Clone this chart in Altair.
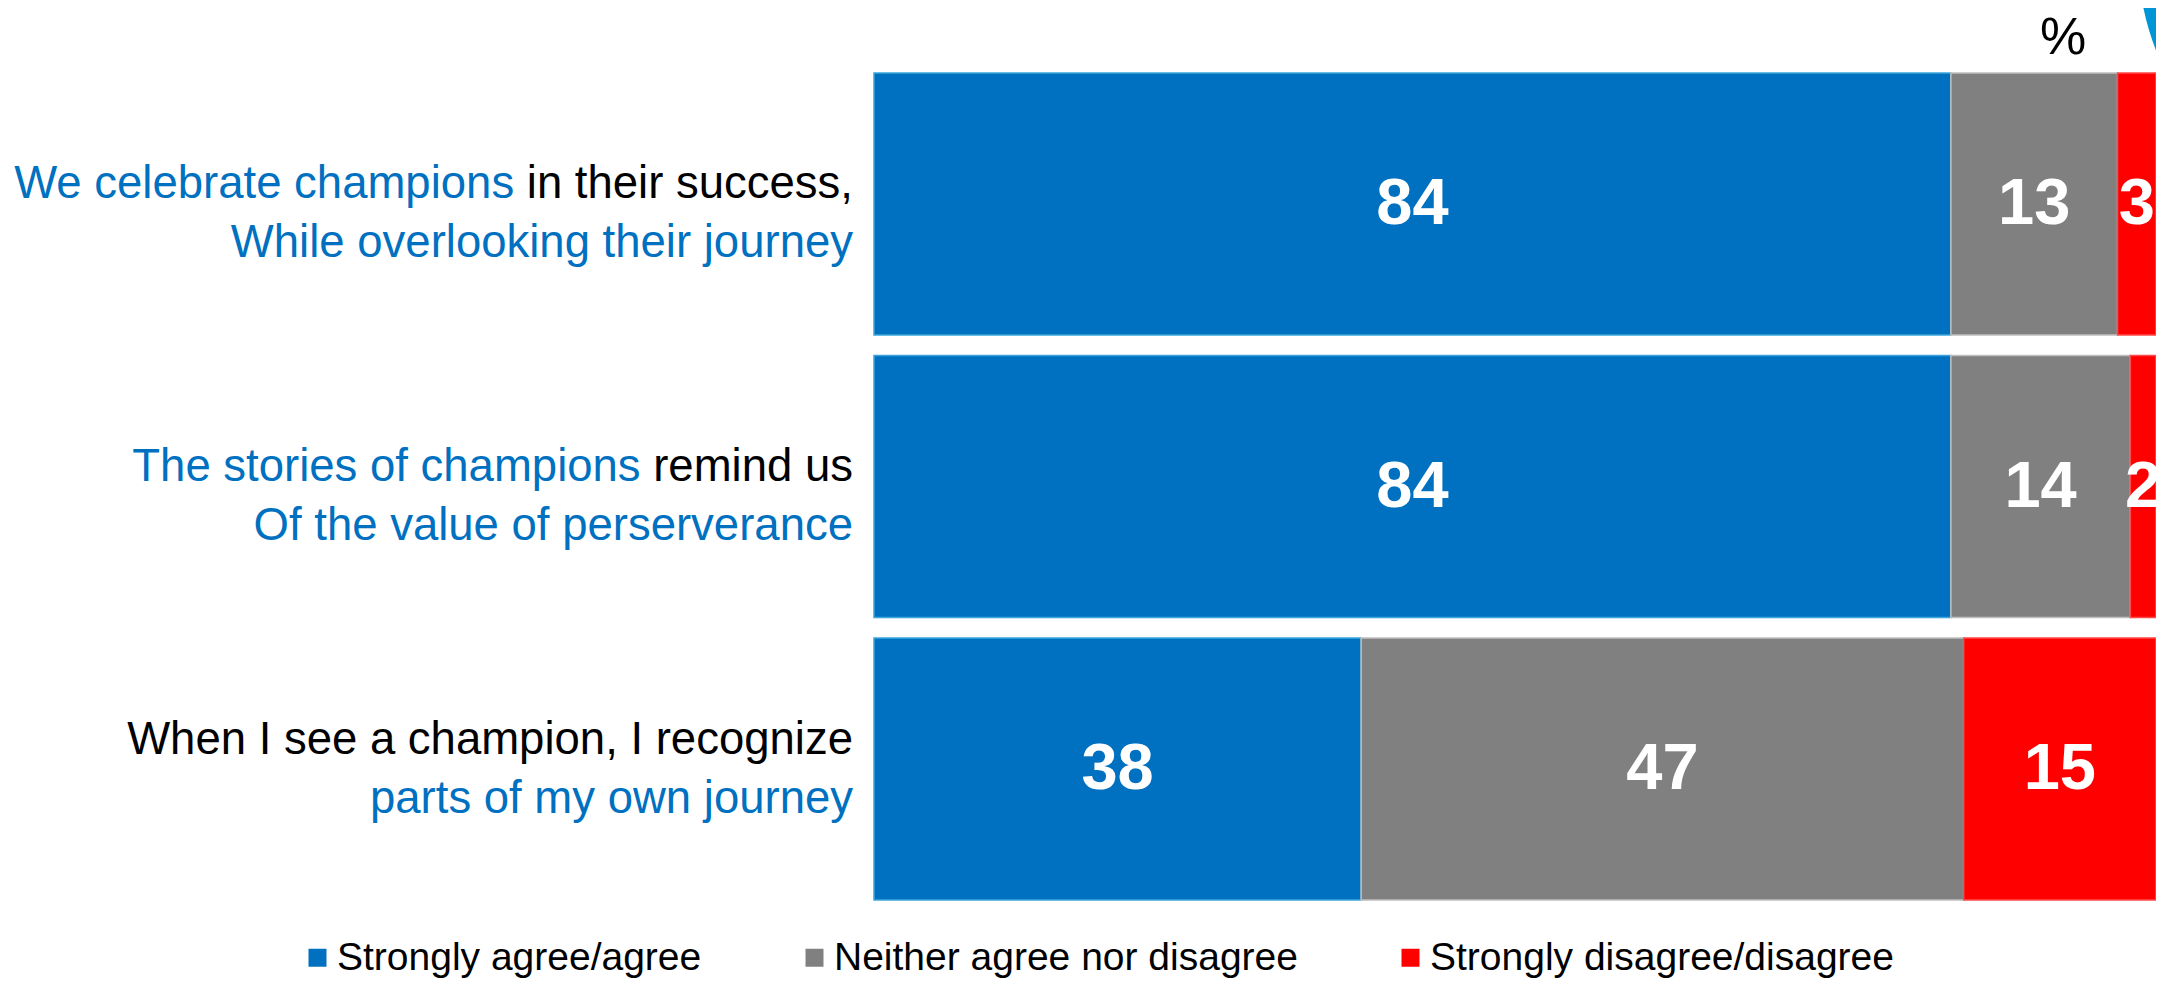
import altair as alt
import pandas as pd

# ---------------- data ----------------
rows = [
    "We celebrate champions in their success, While overlooking their journey",
    "The stories of champions remind us Of the value of perserverance",
    "When I see a champion, I recognize parts of my own journey",
]
categories = ["Strongly agree/agree", "Neither agree nor disagree", "Strongly disagree/disagree"]
agree = [84, 84, 38]
neither = [13, 14, 47]
disagree = [3, 2, 15]

line1_blue = ["We celebrate champions", "The stories of champions", ""]
line1_black = ["in their success,", "remind us", "When I see a champion, I recognize"]
line2_blue = ["While overlooking their journey", "Of the value of perserverance", "parts of my own journey"]

# ---------------- style ----------------
fill_colors = ["#0070C0", "#808080", "#FF0000"]
edge_colors = ["#3AA6DD", "#BFBFBF", "#FF4A4A"]
BLUE_TEXT = "#0070C0"
FONT = "Liberation Sans"
LABEL_SIZE = 45.5
LABEL_RIGHT = -21

# Arial / Liberation Sans advance widths (1/1000 em)
ARIAL = {
    " ": 278, ",": 278, ".": 278, "/": 278,
    "a": 556, "b": 556, "c": 500, "d": 556, "e": 556, "f": 278, "g": 556, "h": 556,
    "i": 222, "j": 222, "k": 500, "l": 222, "m": 833, "n": 556, "o": 556, "p": 556,
    "q": 556, "r": 333, "s": 500, "t": 278, "u": 556, "v": 500, "w": 722, "x": 500,
    "y": 500, "z": 500,
    "A": 667, "B": 667, "C": 722, "D": 722, "E": 667, "F": 611, "G": 778, "H": 722,
    "I": 278, "J": 500, "K": 667, "L": 556, "M": 833, "N": 722, "O": 778, "P": 667,
    "Q": 778, "R": 722, "S": 667, "T": 611, "U": 722, "V": 667, "W": 944, "X": 667,
    "Y": 667, "Z": 611,
}


def text_width(s, size):
    return sum(ARIAL.get(ch, 556) for ch in s) / 1000.0 * size


# bar table
recs = []
for i, r in enumerate(rows):
    start = 0
    for cat, v in zip(categories, [agree[i], neither[i], disagree[i]]):
        recs.append(dict(row=r, cat=cat, value=v, start=start, end=start + v, mid=start + v / 2))
        start += v
bars_df = pd.DataFrame(recs)

# label tables
lab = []
for i, r in enumerate(rows):
    black_w = text_width(line1_black[i], LABEL_SIZE)
    lab.append(dict(row=r, idx=i, part="l1_black", text=line1_black[i], xpos=LABEL_RIGHT))
    if line1_blue[i]:
        lab.append(dict(row=r, idx=i, part="l1_blue", text=line1_blue[i],
                        xpos=LABEL_RIGHT - black_w - text_width(" ", LABEL_SIZE)))
    lab.append(dict(row=r, idx=i, part="l2_blue", text=line2_blue[i], xpos=LABEL_RIGHT))
lab_df = pd.DataFrame(lab)

y_enc = alt.Y("row:N", sort=rows, axis=None,
              scale=alt.Scale(paddingInner=0.073, paddingOuter=0))
x_scale = alt.Scale(domain=[0, 100], nice=False, zero=True)

deco = alt.Chart(pd.DataFrame({"d": [1]})).mark_point(
    filled=True, shape="circle", size=274576, color="#0096D6", opacity=1
).encode(x=alt.value(1526), y=alt.value(-118))

bars = alt.Chart(bars_df).mark_bar(strokeWidth=1.5).encode(
    x=alt.X("start:Q", scale=x_scale, axis=None),
    x2="end:Q",
    y=y_enc,
    color=alt.Color(
        "cat:N", sort=categories,
        scale=alt.Scale(domain=categories, range=fill_colors),
        legend=alt.Legend(
            orient="none", legendX=-576, legendY=865, direction="horizontal",
            title=None, symbolType="square", symbolSize=324, symbolStrokeWidth=0,
            labelFont=FONT, labelFontSize=39, labelColor="black", labelOffset=0,
            columnPadding=93, padding=0, labelLimit=1000, columns=3,
        ),
    ),
    stroke=alt.Stroke("cat:N", scale=alt.Scale(domain=categories, range=edge_colors), legend=None),
)

values = alt.Chart(bars_df).mark_text(
    font=FONT, fontSize=65, fontWeight="bold", color="white", align="center", baseline="middle"
).encode(
    x=alt.X("mid:Q", scale=x_scale, axis=None),
    y=y_enc,
    text=alt.Text("value:Q", format="d"),
)


def text_layer(part, color, dy, idxs):
    d = lab_df[(lab_df["part"] == part) & (lab_df["idx"].isin(idxs))]
    return alt.Chart(d).mark_text(
        font=FONT, fontSize=LABEL_SIZE, color=color, align="right", baseline="alphabetic", dy=dy
    ).encode(
        x=alt.X("xpos:Q", scale=None),
        y=y_enc,
        text="text:N",
    )


labels = [
    text_layer("l1_black", "black", -6, [0, 1]),
    text_layer("l1_blue", BLUE_TEXT, -6, [0, 1]),
    text_layer("l2_blue", BLUE_TEXT, 53, [0, 1]),
    text_layer("l1_black", "black", -15, [2]),
    text_layer("l2_blue", BLUE_TEXT, 44, [2]),
]

pct = alt.Chart(pd.DataFrame({"t": ["%"]})).mark_text(
    font=FONT, fontSize=52, color="black", align="center", baseline="alphabetic"
).encode(x=alt.value(1189), y=alt.value(-19), text="t:N")

chart = alt.layer(deco, bars, values, *labels, pct).properties(
    width=1282,
    height=827,
    autosize=alt.AutoSizeParams(type="none"),
    padding={"left": 866, "top": 65, "right": 0, "bottom": 79},
).configure_view(stroke=None)

chart.save("out.html", embed_options={"renderer": "svg", "actions": False})
